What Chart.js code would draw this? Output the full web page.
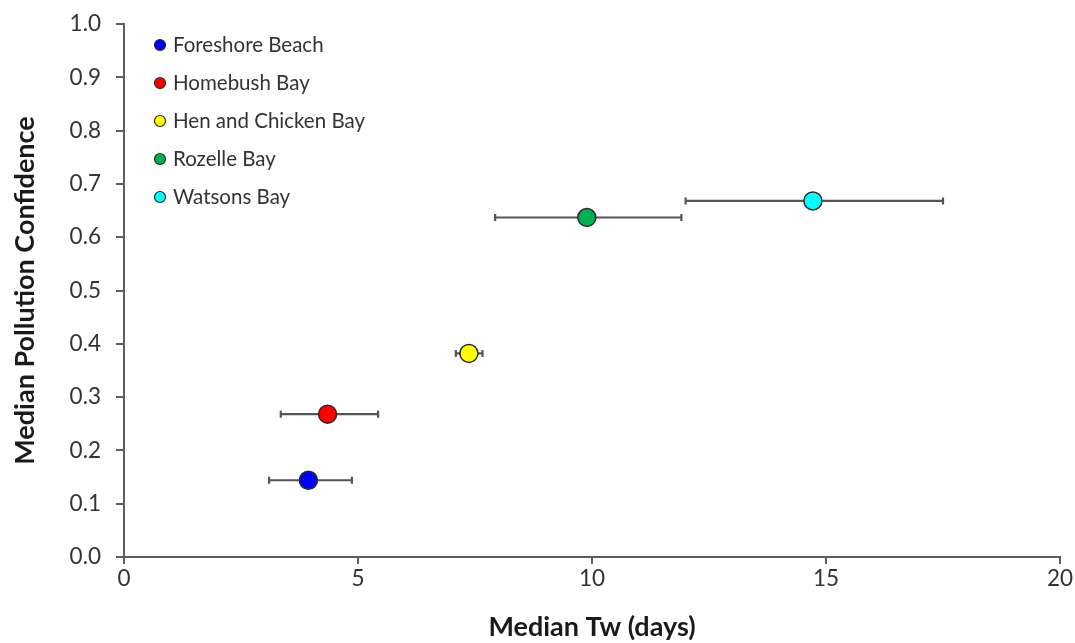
<!DOCTYPE html>
<html>
<head>
<meta charset="utf-8">
<script src="https://cdn.jsdelivr.net/npm/chart.js@4.4.1/dist/chart.umd.min.js"></script>
<style>
  html, body { margin: 0; padding: 0; background: #ffffff; }
  #wrap { width: 1075px; height: 643px; }
</style>
</head>
<body>
<div id="wrap"><canvas id="chart" width="1075" height="643"></canvas></div>
<script>
// Sites and their medians with the spread of Tw (days)
const sites = ['Foreshore Beach', 'Homebush Bay', 'Hen and Chicken Bay', 'Rozelle Bay', 'Watsons Bay'];
const medianTw = [3.94, 4.35, 7.37, 9.89, 14.72];
const twLow = [3.10, 3.35, 7.09, 7.93, 12.00];
const twHigh = [4.87, 5.43, 7.66, 11.91, 17.50];
const confidence = [0.144, 0.268, 0.382, 0.637, 0.668];
const siteColors = ['#0000ff', '#ff0000', '#ffff00', '#00b050', '#00ffff'];

const xAxis = { min: 0, max: 20, step: 5, title: 'Median Tw (days)' };
const yAxis = { min: 0, max: 1, step: 0.1, title: 'Median Pollution Confidence' };

const FONT = 'Lato, "Open Sans", sans-serif';
const AXIS_COLOR = '#5e5e5e';

const datasets = sites.map((name, i) => ({
  label: name,
  data: [{ x: medianTw[i], y: confidence[i], lo: twLow[i], hi: twHigh[i] }],
  backgroundColor: siteColors[i],
  borderColor: '#2b2b2b',
  borderWidth: 1.5,
  pointRadius: 9,
  pointHoverRadius: 9
}));

// Horizontal error bars drawn beneath the markers
const errorBars = {
  id: 'errorBars',
  beforeDatasetsDraw(chart) {
    const { ctx, scales: { x, y } } = chart;
    ctx.save();
    ctx.strokeStyle = '#555555';
    ctx.lineWidth = 2.2;
    chart.data.datasets.forEach(ds => {
      ds.data.forEach(p => {
        const py = y.getPixelForValue(p.y);
        const x1 = x.getPixelForValue(p.lo);
        const x2 = x.getPixelForValue(p.hi);
        ctx.beginPath();
        ctx.moveTo(x1, py); ctx.lineTo(x2, py);
        ctx.moveTo(x1, py - 3.5); ctx.lineTo(x1, py + 3.5);
        ctx.moveTo(x2, py - 3.5); ctx.lineTo(x2, py + 3.5);
        ctx.stroke();
      });
    });
    ctx.restore();
  }
};

// Legend in the top-left corner of the plot area
const insetLegend = {
  id: 'insetLegend',
  afterDraw(chart) {
    const { ctx, chartArea } = chart;
    const x0 = chartArea.left + 36;
    const y0 = chartArea.top + 21;
    const gap = 38;
    ctx.save();
    ctx.font = '20.5px ' + FONT;
    ctx.textBaseline = 'middle';
    ctx.textAlign = 'left';
    chart.data.datasets.forEach((ds, i) => {
      const cy = y0 + i * gap;
      ctx.beginPath();
      ctx.arc(x0, cy, 5.5, 0, Math.PI * 2);
      ctx.fillStyle = ds.backgroundColor;
      ctx.fill();
      ctx.lineWidth = 1.2;
      ctx.strokeStyle = '#2b2b2b';
      ctx.stroke();
      ctx.fillStyle = '#333333';
      ctx.fillText(ds.label, x0 + 13, cy);
    });
    ctx.restore();
  }
};

new Chart(document.getElementById('chart'), {
  type: 'scatter',
  data: { datasets },
  plugins: [errorBars, insetLegend],
  options: {
    responsive: false,
    animation: false,
    layout: { padding: { top: 24, right: 15, left: 0, bottom: 0 } },
    plugins: { legend: { display: false }, tooltip: { enabled: false } },
    scales: {
      x: {
        type: 'linear',
        min: xAxis.min, max: xAxis.max,
        afterFit(scale) { scale.height = 86; },
        ticks: { stepSize: xAxis.step, color: '#333333', font: { family: FONT, size: 22.5 }, padding: 1 },
        grid: { display: true, drawOnChartArea: false, drawTicks: true, tickLength: 7, color: AXIS_COLOR, lineWidth: 2 },
        border: { display: true, color: AXIS_COLOR, width: 2 },
        title: { display: true, text: xAxis.title, color: '#1a1a1a', font: { family: FONT, size: 27, weight: 'bold' }, padding: { top: 0, bottom: 0 } }
      },
      y: {
        type: 'linear',
        min: yAxis.min, max: yAxis.max,
        afterFit(scale) { scale.width = 124; scale.paddingTop = 0; },
        ticks: { stepSize: yAxis.step, color: '#333333', font: { family: FONT, size: 22.5 }, padding: 15,
          callback: v => Number(v).toFixed(1) },
        grid: { display: true, drawOnChartArea: false, drawTicks: true, tickLength: 8, color: AXIS_COLOR, lineWidth: 2 },
        border: { display: true, color: AXIS_COLOR, width: 2 },
        title: { display: true, text: yAxis.title, color: '#1a1a1a', font: { family: FONT, size: 27, weight: 'bold' }, padding: { top: 9, bottom: 0 } }
      }
    }
  }
});
</script>
</body>
</html>
